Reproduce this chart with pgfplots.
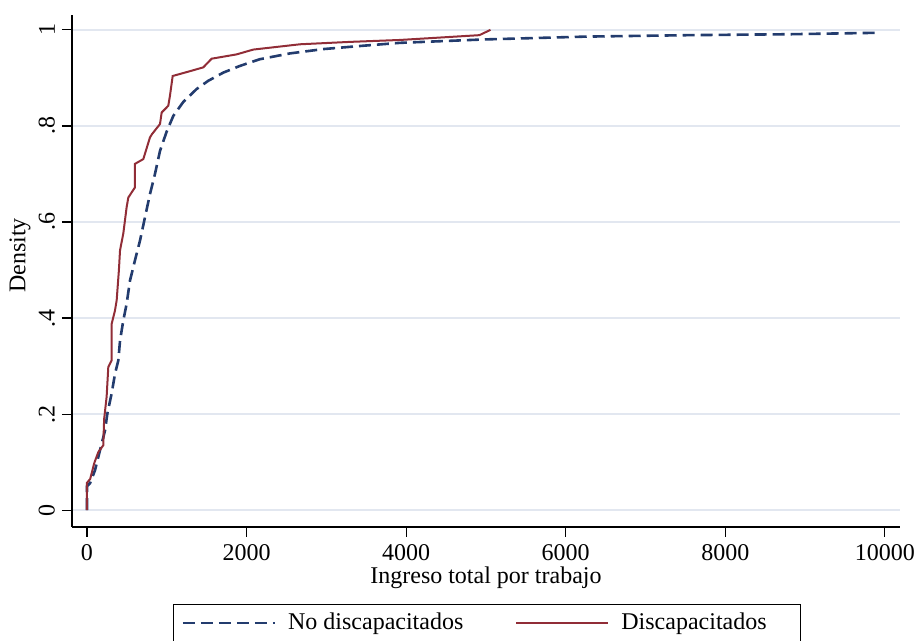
\documentclass[border=0pt]{standalone}
\usepackage{fontspec}
\setmainfont{Liberation Serif}
\usepackage{pgfplots}
\pgfplotsset{compat=1.18}
\definecolor{stnavy}{RGB}{35,60,110}
\definecolor{stmaroon}{RGB}{145,45,55}
\definecolor{stgrid}{RGB}{226,231,240}
\newcommand{\fs}{\fontsize{12}{14}\selectfont}
\begin{document}
\begin{tikzpicture}
\begin{axis}[
  name=ax,
  scale only axis,
  width=414pt, height=256pt,
  xmin=-188, xmax=10190,
  ymin=-0.035, ymax=1.031,
  axis lines=left,
  axis line style={-, line width=0.6pt, black},
  tick align=outside,
  major tick length=5pt,
  tick style={black, line width=0.6pt},
  xtick={0,2000,4000,6000,8000,10000},
  ytick={0,0.2,0.4,0.6,0.8,1},
  yticklabels={0,.2,.4,.6,.8,1},
  scaled x ticks=false,
  xticklabel={\pgfmathprintnumber[fixed,precision=0,1000 sep={}]{\tick}},
  /pgf/number format/assume math mode=true,
  tick label style={font=\fs},
  yticklabel style={rotate=90, anchor=south},
  ymajorgrids,
  grid style={stgrid, line width=1pt},
  xlabel={Ingreso total por trabajo},
  ylabel={Density},
  every axis x label/.style={at={(axis description cs:0.5,0)}, yshift=-25.5pt, anchor=center, font=\fs},
  every axis y label/.style={at={(axis description cs:0,0.53)}, xshift=-26pt, rotate=90, anchor=center, font=\fs},
  legend columns=2,
  legend style={at={(0.122,-0.150)}, anchor=north west, draw=black, line width=0.5pt,
    font=\fs, inner xsep=4pt, inner ysep=2.5pt,
    /tikz/every odd column/.append style={column sep=4pt},
    /tikz/every even column/.append style={column sep=24pt}},
  legend image code/.code={\draw[#1] (0pt,0pt) -- (46pt,0pt);},
]
\addplot[stnavy, line width=1.3pt, dash pattern=on 6pt off 3pt] coordinates {
(0,0) (0,0.05) (38,0.056) (100,0.083) (163,0.125) (226,0.166) (255,0.201)
(309,0.243) (351,0.284) (393,0.312) (414,0.353) (455,0.395) (497,0.430)
(539,0.478) (601,0.520) (664,0.561) (727,0.610) (789,0.658) (852,0.700)
(915,0.748) (998,0.788) (1082,0.821) (1207,0.850) (1375,0.877) (1520,0.894)
(1708,0.911) (1917,0.925) (2168,0.939) (2544,0.951) (2961,0.960) (3462,0.967)
(3922,0.973) (4962,0.980) (6253,0.986) (7544,0.989) (8835,0.991) (9930,0.994)
};
\addlegendentry{No discapacitados}
\addplot[stmaroon, line width=1pt] coordinates {
(0,0) (0,0.057) (40,0.065) (91,0.098) (142,0.121) (204,0.135) (215,0.19)
(246,0.236) (267,0.298) (309,0.312) (309,0.388) (351,0.416) (372,0.437)
(400,0.50) (414,0.541) (455,0.576) (497,0.631) (518,0.651) (601,0.672)
(601,0.721) (706,0.731) (789,0.776) (815,0.783) (915,0.804) (936,0.828)
(1019,0.842) (1040,0.863) (1074,0.904) (1312,0.915) (1458,0.922) (1562,0.940)
(1876,0.949) (2084,0.959) (2669,0.970) (3296,0.975) (3922,0.979) (4918,0.989)
(5057,1.0)
};
\addlegendentry{Discapacitados\hspace*{11pt}}
\end{axis}
\pgfresetboundingbox
\path[use as bounding box] ([xshift=-36pt,yshift=-57pt]ax.south west) rectangle ([xshift=9pt,yshift=7.5pt]ax.north east);
\end{tikzpicture}
\end{document}
